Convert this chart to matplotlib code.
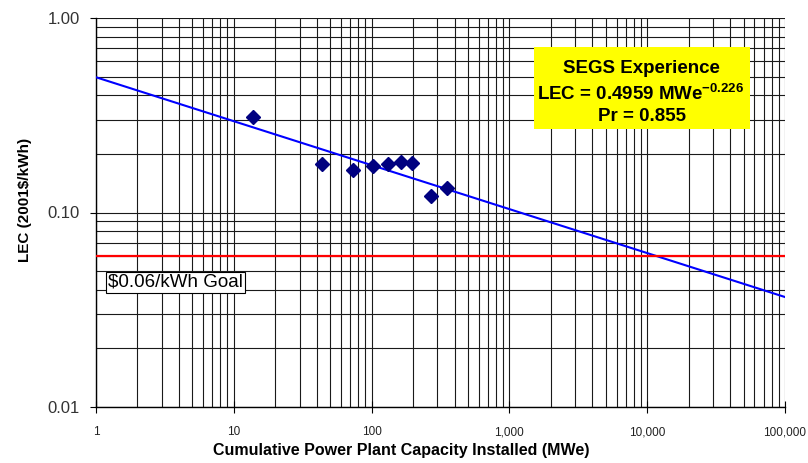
import numpy as np
import matplotlib
matplotlib.use("Agg")
import matplotlib.pyplot as plt
from matplotlib.patches import Rectangle
from matplotlib.ticker import FixedLocator, FixedFormatter, NullFormatter

plt.rcParams['font.family'] = ['Liberation Sans', 'DejaVu Sans']
plt.rcParams['mathtext.fontset'] = 'custom'
plt.rcParams['mathtext.rm'] = 'Liberation Sans'
plt.rcParams['mathtext.bf'] = 'Liberation Sans:bold'

# SEGS plants: cumulative capacity (MWe) vs levelized energy cost
capacity = [13.7, 44, 73, 103, 132, 163, 195, 272, 355]
lec = [0.31, 0.178, 0.166, 0.173, 0.178, 0.182, 0.180, 0.122, 0.134]

# fitted experience curve
fit_a = 0.4959
fit_b = -0.226
fit_x = [1, 100000]
goal = 0.06

x_ticks = [1, 10, 100, 1000, 10000, 100000]
x_labels = ["1", "10", "100", "1,000", "10,000", "100,000"]
y_ticks = [0.01, 0.1, 1.0]
y_labels = ["0.01", "0.10", "1.00"]

fig = plt.figure(figsize=(8.08, 4.63), dpi=100)
ax = fig.add_axes([96 / 808, 1 - 407 / 463, 689 / 808, 389 / 463])

ax.set_xscale('log')
ax.set_yscale('log')
ax.set_xlim(1, 100000)
ax.set_ylim(0.01, 1.0)

# grid on every minor decade step
ax.grid(True, which='both', color='#1a1a1a', linewidth=0.8)
ax.set_axisbelow(True)

fx = np.array(fit_x, dtype=float)
ax.plot(fx, fit_a * fx ** fit_b, color='#0000ff', linewidth=1.5, zorder=3)
ax.axhline(goal, color='#ff0000', linewidth=1.6, zorder=3)
ax.plot(capacity, lec, linestyle='none', marker='D', markersize=7,
        color='#000080', zorder=4)

ax.text(1.22, 0.0438, "$0.06/kWh Goal", fontsize=13.5, va='center', ha='left',
        bbox=dict(boxstyle='square,pad=0.1', facecolor='white',
                  edgecolor='black', linewidth=0.8), zorder=5)

# yellow annotation box
ax.add_patch(Rectangle((0.636, 0.715), 0.313, 0.21, transform=ax.transAxes,
                       facecolor='#ffff00', edgecolor='none', zorder=6))
box_kw = dict(transform=ax.transAxes, fontsize=13.5, fontweight='bold',
              ha='center', va='center', zorder=7)
ax.text(0.792, 0.871, "SEGS Experience", **box_kw)
ax.text(0.790, 0.805, "LEC = 0.4959 MWe$^{\\mathbf{-0.226}}$", **box_kw)
ax.text(0.792, 0.748, "Pr = 0.855", **box_kw)

ax.xaxis.set_major_locator(FixedLocator(x_ticks))
ax.xaxis.set_major_formatter(FixedFormatter(x_labels))
ax.xaxis.set_minor_formatter(NullFormatter())
ax.yaxis.set_major_locator(FixedLocator(y_ticks))
ax.yaxis.set_major_formatter(FixedFormatter(y_labels))
ax.yaxis.set_minor_formatter(NullFormatter())

ax.tick_params(axis='x', which='major', direction='inout', length=8,
               labelsize=8.5, pad=10, labelcolor='#222222')
ax.tick_params(axis='y', which='major', direction='out', length=4.5,
               labelsize=12, pad=7, labelcolor='#333333')
ax.tick_params(which='minor', length=0)

for side in ['top', 'right']:
    ax.spines[side].set_visible(False)
for side in ['left', 'bottom']:
    ax.spines[side].set_color('black')
    ax.spines[side].set_linewidth(1.0)

ax.set_xlabel("Cumulative Power Plant Capacity Installed (MWe)",
              fontsize=11.5, fontweight='bold')
ax.xaxis.set_label_coords((401 - 96) / 689, -(443 - 407) / 389)
ax.set_ylabel("LEC (2001$/kWh)", fontsize=11, fontweight='bold')
ax.yaxis.set_label_coords(-(96 - 32) / 689, (407 - 200) / 389)

fig.savefig("out.png", dpi=100)
